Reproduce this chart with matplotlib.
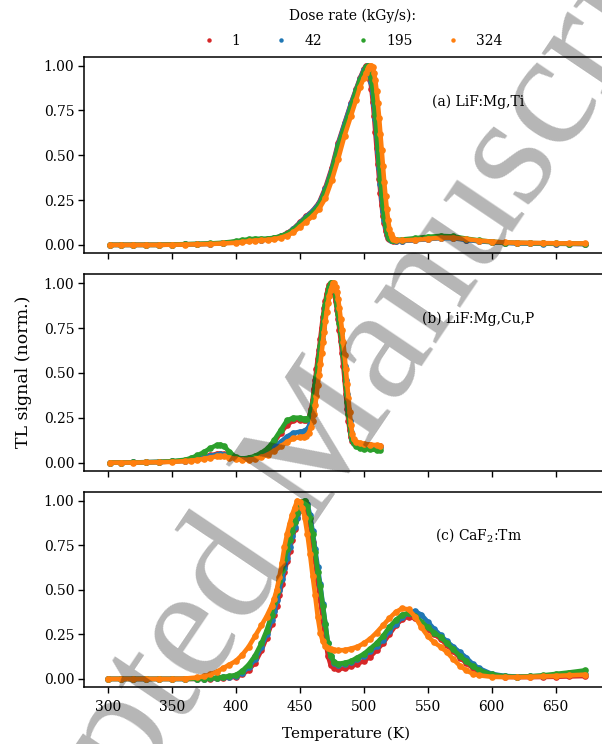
import matplotlib
matplotlib.use("Agg")
import matplotlib.pyplot as plt
from matplotlib.lines import Line2D

# ---------------- data ----------------
dose_rates = ["1", "42", "195", "324"]
colors = ["#d62728", "#1f77b4", "#2ca02c", "#ff7f0e"]
xticks = [300, 350, 400, 450, 500, 550, 600, 650]
yticks = [0.0, 0.25, 0.5, 0.75, 1.0]
panel_labels = ["(a) LiF:Mg,Ti", "(b) LiF:Mg,Cu,P", "(c) CaF$_2$:Tm"]

# (a) LiF:Mg,Ti
T_a = [302, 310, 320, 330, 340, 350, 360, 370, 380, 390,
       400, 405, 410, 415, 420, 425, 430, 435, 440, 445, 450, 455, 460, 465, 470, 475, 480, 485, 490, 494, 497, 500,
       502, 503, 504, 505, 506, 507, 508, 509, 510, 511, 512, 513, 514, 515, 516, 517, 518, 519, 520, 521, 522, 523,
       525, 530, 540, 550, 560, 570, 580, 590, 600, 610, 620, 630, 640, 650, 660, 673]
a_1 = [0, 0, 0, 0, 0, 0.002, 0.003, 0.004, 0.006, 0.01,
       0.017, 0.022, 0.027, 0.03, 0.03, 0.032, 0.038, 0.048, 0.065, 0.09, 0.125, 0.16, 0.19, 0.235, 0.32, 0.43, 0.57, 0.68, 0.79, 0.87, 0.93, 0.98,
       1.0, 0.99, 0.96, 0.92, 0.87, 0.80, 0.72, 0.63, 0.54, 0.45, 0.37, 0.29, 0.22, 0.16, 0.12, 0.08, 0.055, 0.04, 0.032, 0.028, 0.025, 0.023,
       0.022, 0.022, 0.027, 0.033, 0.04, 0.04, 0.03, 0.022, 0.016, 0.012, 0.01, 0.009, 0.008, 0.007, 0.006, 0.005]
a_42 = [0, 0, 0, 0, 0, 0.002, 0.003, 0.004, 0.006, 0.01,
        0.017, 0.022, 0.027, 0.03, 0.03, 0.032, 0.037, 0.047, 0.063, 0.088, 0.122, 0.157, 0.188, 0.23, 0.31, 0.42, 0.56, 0.675, 0.785, 0.865, 0.925, 0.975,
        0.995, 1.0, 0.98, 0.95, 0.91, 0.85, 0.78, 0.70, 0.61, 0.52, 0.43, 0.34, 0.26, 0.19, 0.14, 0.10, 0.07, 0.05, 0.037, 0.03, 0.027, 0.025,
        0.023, 0.022, 0.026, 0.032, 0.038, 0.037, 0.028, 0.02, 0.015, 0.011, 0.009, 0.008, 0.007, 0.006, 0.006, 0.005]
a_195 = [0, 0, 0, 0, 0, 0.002, 0.004, 0.006, 0.008, 0.012,
         0.02, 0.026, 0.031, 0.034, 0.034, 0.035, 0.04, 0.048, 0.063, 0.085, 0.118, 0.15, 0.18, 0.22, 0.30, 0.41, 0.55, 0.66, 0.77, 0.86, 0.92, 0.965,
         0.99, 1.0, 0.99, 0.97, 0.93, 0.88, 0.81, 0.73, 0.64, 0.55, 0.46, 0.37, 0.29, 0.22, 0.16, 0.11, 0.08, 0.055, 0.04, 0.033, 0.03, 0.028,
         0.027, 0.03, 0.037, 0.045, 0.05, 0.047, 0.035, 0.025, 0.018, 0.013, 0.011, 0.01, 0.009, 0.008, 0.007, 0.006]
a_324 = [0, 0, 0, 0, 0, 0.001, 0.002, 0.003, 0.005, 0.008,
         0.012, 0.016, 0.02, 0.024, 0.026, 0.028, 0.032, 0.04, 0.052, 0.07, 0.1, 0.13, 0.16, 0.2, 0.26, 0.36, 0.48, 0.61, 0.72, 0.81, 0.88, 0.93,
         0.96, 0.98, 0.995, 1.0, 1.0, 0.99, 0.96, 0.92, 0.86, 0.79, 0.71, 0.62, 0.53, 0.44, 0.35, 0.27, 0.2, 0.14, 0.09, 0.06, 0.045, 0.035,
         0.028, 0.025, 0.028, 0.034, 0.04, 0.04, 0.032, 0.024, 0.018, 0.014, 0.012, 0.011, 0.01, 0.009, 0.008, 0.008]

# (b) LiF:Mg,Cu,P
T_b = [302, 310, 320, 330, 340, 350, 360, 365, 370, 375, 380, 385, 388, 391, 395, 400, 405, 410, 415, 420,
       425, 430, 435, 440, 445, 450, 453, 455, 457, 459,
       460, 461, 462, 463, 464, 465, 466, 467, 468, 469, 470, 471, 472, 473, 474, 475, 476, 477, 478, 479,
       480, 481, 482, 483, 484, 485, 486, 487, 488, 489, 490, 491, 492,
       494, 497, 500, 505, 510, 513]
b_1 = [0, 0, 0.001, 0.002, 0.003, 0.006, 0.01, 0.014, 0.02, 0.03, 0.04, 0.048, 0.05, 0.047, 0.038, 0.025, 0.02, 0.023, 0.032, 0.05,
       0.075, 0.115, 0.165, 0.21, 0.235, 0.24, 0.238, 0.24, 0.25, 0.3,
       0.35, 0.41, 0.46, 0.52, 0.58, 0.63, 0.69, 0.75, 0.81, 0.86, 0.90, 0.94, 0.97, 0.99, 1.0, 0.99, 0.97, 0.94, 0.90, 0.85,
       0.80, 0.74, 0.68, 0.61, 0.54, 0.46, 0.38, 0.30, 0.23, 0.18, 0.14, 0.12, 0.11,
       0.105, 0.1, 0.1, 0.098, 0.095, 0.093]
b_42 = [0, 0, 0.001, 0.002, 0.003, 0.006, 0.01, 0.013, 0.018, 0.027, 0.037, 0.044, 0.046, 0.043, 0.035, 0.025, 0.02, 0.022, 0.028, 0.04,
        0.06, 0.085, 0.115, 0.145, 0.165, 0.172, 0.175, 0.18, 0.2, 0.25,
        0.29, 0.34, 0.40, 0.46, 0.52, 0.57, 0.63, 0.69, 0.75, 0.80, 0.86, 0.90, 0.94, 0.97, 0.99, 1.0, 0.99, 0.97, 0.94, 0.90,
        0.85, 0.80, 0.74, 0.68, 0.61, 0.54, 0.46, 0.38, 0.30, 0.23, 0.17, 0.13, 0.11,
        0.1, 0.095, 0.093, 0.09, 0.088, 0.086]
b_195 = [0, 0, 0.001, 0.002, 0.004, 0.008, 0.015, 0.025, 0.04, 0.058, 0.08, 0.097, 0.1, 0.09, 0.06, 0.03, 0.022, 0.027, 0.037, 0.055,
         0.08, 0.125, 0.18, 0.235, 0.25, 0.25, 0.245, 0.245, 0.25, 0.29,
         0.33, 0.38, 0.43, 0.48, 0.54, 0.59, 0.65, 0.71, 0.77, 0.83, 0.88, 0.92, 0.95, 0.98, 1.0, 1.0, 0.99, 0.97, 0.93, 0.88,
         0.83, 0.78, 0.72, 0.66, 0.60, 0.52, 0.43, 0.34, 0.27, 0.21, 0.16, 0.13, 0.11,
         0.09, 0.08, 0.077, 0.074, 0.07, 0.068]
b_324 = [0, 0, 0, 0.001, 0.002, 0.004, 0.008, 0.011, 0.015, 0.021, 0.028, 0.034, 0.036, 0.034, 0.028, 0.02, 0.016, 0.016, 0.02, 0.03,
         0.045, 0.065, 0.09, 0.115, 0.135, 0.142, 0.145, 0.15, 0.165, 0.2,
         0.23, 0.27, 0.32, 0.37, 0.43, 0.49, 0.55, 0.61, 0.67, 0.73, 0.79, 0.84, 0.89, 0.93, 0.96, 0.98, 1.0, 1.0, 0.98, 0.95,
         0.91, 0.86, 0.80, 0.74, 0.67, 0.60, 0.52, 0.44, 0.36, 0.28, 0.21, 0.16, 0.13,
         0.115, 0.11, 0.105, 0.1, 0.097, 0.095]

# (c) CaF2:Tm
T_c = [300, 310, 320, 330, 340, 350, 360, 370,
       375, 380, 385, 390, 395, 400, 405, 410, 415, 420,
       424, 428,
       430, 432, 434, 436, 438, 440, 442, 444, 446, 448, 450, 452, 454, 456, 458, 460, 462, 464, 466, 468, 470, 472, 474,
       477, 480,
       485, 490, 495, 500, 505, 510, 515, 520, 525, 530, 535, 540, 545, 550, 555, 560, 565, 570, 575, 580, 585, 590,
       600, 610, 620, 630, 640, 650, 660, 673]
c_1 = [0, 0, 0, 0, 0, 0, 0, 0,
       0.001, 0.002, 0.003, 0.005, 0.008, 0.012, 0.025, 0.05, 0.09, 0.16,
       0.23, 0.31,
       0.36, 0.41, 0.47, 0.53, 0.6, 0.66, 0.72, 0.78, 0.84, 0.9, 0.95, 0.99, 0.99, 0.95, 0.87, 0.77, 0.66, 0.55, 0.44, 0.33, 0.22, 0.13, 0.08,
       0.06, 0.055,
       0.06, 0.07, 0.085, 0.1, 0.125, 0.16, 0.2, 0.25, 0.3, 0.335, 0.35, 0.34, 0.31, 0.28, 0.25, 0.225, 0.19, 0.155, 0.12, 0.09, 0.062, 0.042,
       0.02, 0.012, 0.01, 0.01, 0.011, 0.012, 0.014, 0.016]
c_42 = [0, 0, 0, 0, 0, 0, 0, 0.001,
        0.002, 0.003, 0.005, 0.008, 0.012, 0.018, 0.035, 0.065, 0.11, 0.18,
        0.25, 0.33,
        0.38, 0.44, 0.5, 0.56, 0.62, 0.68, 0.74, 0.8, 0.85, 0.9, 0.95, 0.985, 1.0, 0.98, 0.92, 0.83, 0.73, 0.63, 0.53, 0.42, 0.31, 0.2, 0.13,
        0.09, 0.08,
        0.085, 0.095, 0.11, 0.13, 0.155, 0.185, 0.22, 0.27, 0.31, 0.345, 0.37, 0.38, 0.36, 0.32, 0.28, 0.245, 0.21, 0.18, 0.15, 0.12, 0.085, 0.06,
        0.028, 0.017, 0.013, 0.014, 0.017, 0.021, 0.025, 0.03]
c_195 = [0, 0, 0, 0, 0, 0, 0, 0.001,
         0.002, 0.004, 0.007, 0.011, 0.016, 0.022, 0.045, 0.08, 0.13, 0.2,
         0.27, 0.36,
         0.43, 0.49, 0.55, 0.61, 0.67, 0.73, 0.78, 0.83, 0.88, 0.93, 0.97, 0.995, 1.0, 0.97, 0.9, 0.81, 0.71, 0.6, 0.52, 0.41, 0.31, 0.2, 0.13,
         0.095, 0.085,
         0.09, 0.1, 0.12, 0.14, 0.17, 0.2, 0.24, 0.29, 0.33, 0.36, 0.37, 0.355, 0.32, 0.29, 0.26, 0.235, 0.2, 0.165, 0.13, 0.1, 0.07, 0.05,
         0.025, 0.015, 0.012, 0.015, 0.02, 0.028, 0.036, 0.048]
c_324 = [0, 0, 0, 0, 0, 0, 0.002, 0.008,
         0.015, 0.025, 0.04, 0.06, 0.08, 0.1, 0.135, 0.18, 0.24, 0.3,
         0.35, 0.41,
         0.45, 0.5, 0.57, 0.65, 0.74, 0.81, 0.87, 0.92, 0.96, 1.0, 0.99, 0.96, 0.9, 0.81, 0.70, 0.58, 0.47, 0.35, 0.26, 0.21, 0.185, 0.172, 0.166,
         0.162, 0.16,
         0.162, 0.17, 0.18, 0.2, 0.225, 0.26, 0.3, 0.34, 0.375, 0.395, 0.39, 0.35, 0.29, 0.24, 0.205, 0.18, 0.15, 0.11, 0.075, 0.048, 0.03, 0.02,
         0.012, 0.01, 0.01, 0.012, 0.014, 0.017, 0.02, 0.024]

panels = [
    (T_a, [a_1, a_42, a_195, a_324]),
    (T_b, [b_1, b_42, b_195, b_324]),
    (T_c, [c_1, c_42, c_195, c_324]),
]

# ---------------- figure ----------------
plt.rcParams["font.family"] = ["DejaVu Serif"]
plt.rcParams["mathtext.fontset"] = "dejavuserif"

W, H = 602, 744
fig = plt.figure(figsize=(W / 100, H / 100), dpi=100)

ax_left = 84 / W
ax_width = 525 / W
tops_bottoms = [(56.7, 253.3), (274.3, 471.0), (491.7, 687.3)]
label_pos = [(0.663, 0.77), (0.644, 0.773), (0.669, 0.78)]

axes = []
for i, ((T, series), (top, bot)) in enumerate(zip(panels, tops_bottoms)):
    ax = fig.add_axes([ax_left, 1 - bot / H, ax_width, (bot - top) / H])
    for vals, c in zip(series, colors):
        ax.plot(T, vals, color=c, lw=3.3, marker="o", ms=4.8, mew=0,
                solid_capstyle="round", solid_joinstyle="round")
    ax.set_xlim(281.35, 691.65)
    ax.set_ylim(-0.047, 1.05)
    ax.set_xticks(xticks)
    ax.set_yticks(yticks)
    ax.yaxis.set_major_formatter("{x:.2f}")
    ax.tick_params(direction="out", length=4, width=1.0, labelsize=10, pad=3, colors="black")
    ax.tick_params(axis="x", pad=5)
    for s in ax.spines.values():
        s.set_linewidth(1.1)
    if i < 2:
        ax.tick_params(labelbottom=False)
    ax.text(label_pos[i][0], label_pos[i][1], panel_labels[i], transform=ax.transAxes,
            ha="left", va="center", fontsize=10)
    axes.append(ax)

axes[2].set_xlabel("Temperature (K)", fontsize=11, labelpad=9)
fig.text(24 / W, 1 - 372 / H, "TL signal (norm.)", rotation=90, ha="center", va="center", fontsize=12.5)

handles = [Line2D([], [], color=c, marker="o", linestyle="None", markersize=3.2, mew=0) for c in colors]
fig.legend(handles, dose_rates, title="Dose rate (kGy/s):", ncol=4, loc="upper center",
           bbox_to_anchor=(0.585, 0.994), frameon=False, fontsize=10, title_fontsize=10,
           handlelength=1.0, handletextpad=1.15, columnspacing=2.45, borderaxespad=0.0,
           borderpad=0.3, labelspacing=0.8)

# watermark
fig.text(305 / W, 1 - 470 / H, "Accepted Manuscript", rotation=56, rotation_mode="anchor",
         ha="center", va="center", fontsize=118, family="Liberation Serif",
         color="black", alpha=0.29, zorder=10)

fig.savefig("out.png", dpi=100)
